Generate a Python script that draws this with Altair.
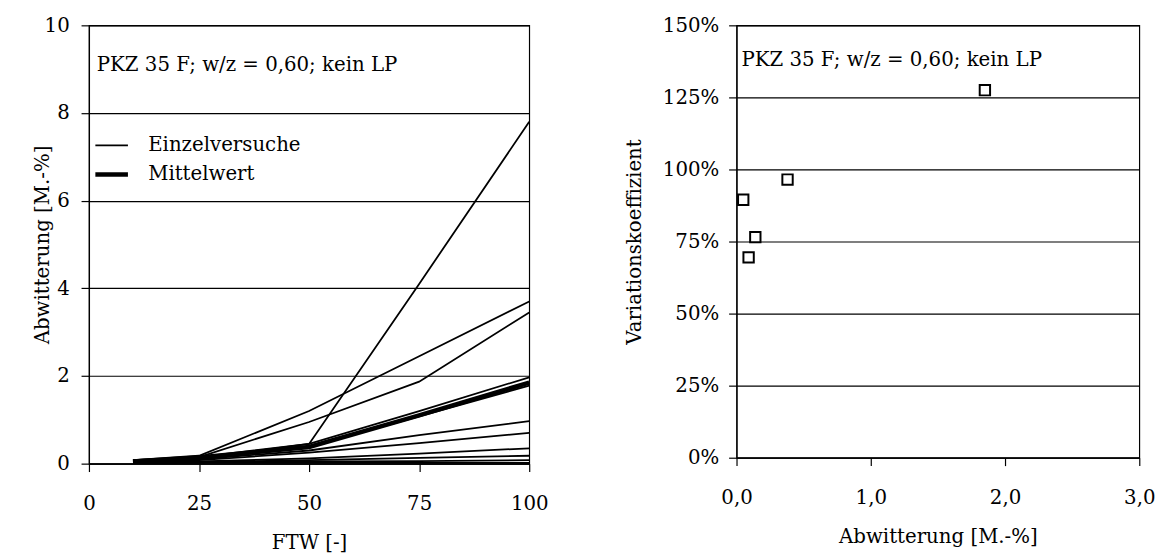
import altair as alt
import pandas as pd

FONT = "DejaVu Serif"
FS = 20

# ---- left panel data: Abwitterung over FTW ----
ftw = [10, 25, 50, 75, 100]
v01 = [0.08, 0.15, 0.45, 4.10, 7.80]
v02 = [0.08, 0.18, 1.20, 2.45, 3.70]
v03 = [0.07, 0.15, 0.95, 1.87, 3.45]
v04 = [0.06, 0.12, 0.45, 1.20, 1.97]
v05 = [0.05, 0.12, 0.38, 1.08, 1.78]
v06 = [0.05, 0.10, 0.30, 0.65, 0.97]
v07 = [0.04, 0.08, 0.25, 0.47, 0.70]
v08 = [0.03, 0.05, 0.12, 0.23, 0.35]
v09 = [0.02, 0.04, 0.08, 0.13, 0.18]
v10 = [0.01, 0.03, 0.05, 0.06, 0.08]
v11 = [0.01, 0.02, 0.02, 0.02, 0.02]
mittel = [0.05, 0.14, 0.38, 1.10, 1.85]

# ---- right panel data: Variationskoeffizient over mean ----
mw = [0.05, 0.09, 0.14, 0.38, 1.85]
cv = [0.895, 0.695, 0.765, 0.965, 1.275]

info_text = "PKZ 35 F; w/z = 0,60; kein LP"
typ_einzel = "Einzelversuche"
typ_mittel = "Mittelwert"

rows = []
einzel = [v01, v02, v03, v04, v05, v06, v07, v08, v09, v10, v11]
for i, s in enumerate(einzel):
    for f, v in zip(ftw, s):
        rows.append({"FTW": f, "Abw": v, "Serie": f"V{i+1}", "Typ": typ_einzel})
for f, v in zip(ftw, mittel):
    rows.append({"FTW": f, "Abw": v, "Serie": "MW", "Typ": typ_mittel})
df_left = pd.DataFrame(rows)
df_right = pd.DataFrame({"MW": mw, "CV": cv})
df_text = pd.DataFrame({"t": [info_text]})

W1, H1 = 446, 444
W2, H2 = 408, 438

lines = alt.Chart(df_left).mark_line(color="black").encode(
    x=alt.X("FTW:Q", scale=alt.Scale(domain=[0, 100]),
            axis=alt.Axis(values=[0, 25, 50, 75, 100], title="FTW [-]", grid=False,
                          labelFlush=False, labelPadding=22, titlePadding=20)),
    y=alt.Y("Abw:Q", scale=alt.Scale(domain=[0, 10]),
            axis=alt.Axis(values=[0, 2, 4, 6, 8, 10], title="Abwitterung [M.-%]", grid=True,
                          labelPadding=12, titleX=-47, titleY=H1 / 2, titleBaseline="middle")),
    detail="Serie:N",
    strokeWidth=alt.StrokeWidth(
        "Typ:N",
        scale=alt.Scale(domain=[typ_einzel, typ_mittel], range=[1.8, 4.5]),
        legend=alt.Legend(title=None, orient="none", legendX=4, legendY=104,
                          symbolType="stroke", symbolSize=1089, symbolStrokeColor="black",
                          labelFont=FONT, labelFontSize=FS, labelColor="black", labelLimit=400,
                          labelOffset=18, rowPadding=-7, padding=0)),
)

text_left = alt.Chart(df_text).mark_text(
    align="left", baseline="alphabetic", font=FONT, fontSize=FS, color="black"
).encode(x=alt.value(8), y=alt.value(46), text="t:N")

left = alt.layer(lines, text_left).properties(width=W1, height=H1)

points = alt.Chart(df_right).mark_point(
    shape="square", filled=False, color="black", strokeWidth=2, size=110, opacity=1
).encode(
    x=alt.X("MW:Q", scale=alt.Scale(domain=[0, 3]),
            axis=alt.Axis(values=[0, 1, 2, 3], title="Abwitterung [M.-%]", grid=False,
                          labelExpr="replace(format(datum.value, '.1f'), '.', ',')",
                          labelFlush=False, labelPadding=22, titlePadding=20)),
    y=alt.Y("CV:Q", scale=alt.Scale(domain=[0, 1.5]),
            axis=alt.Axis(values=[0, 0.25, 0.5, 0.75, 1.0, 1.25, 1.5], format=".0%",
                          title="Variationskoeffizient", grid=True, labelPadding=10,
                          titleX=-103, titleY=H2 / 2, titleBaseline="middle")),
)

text_right = alt.Chart(df_text).mark_text(
    align="left", baseline="alphabetic", font=FONT, fontSize=FS, color="black"
).encode(x=alt.value(5), y=alt.value(41), text="t:N")

right = alt.layer(points, text_right).properties(width=W2, height=H2)

chart = alt.hconcat(left, right, spacing=76).properties(
    padding={"left": 24, "top": 3, "right": 5, "bottom": 0}
).configure_view(
    stroke="black", strokeWidth=1.2
).configure_axis(
    labelFont=FONT, labelFontSize=FS, labelColor="black",
    titleFont=FONT, titleFontSize=FS, titleFontWeight="normal", titleColor="black",
    domainColor="black", domainWidth=1.2, tickColor="black", tickWidth=1.2, tickSize=8,
    gridColor="black", gridOpacity=1, gridWidth=1.2,
)

chart.save("out.html", embed_options={"renderer": "svg", "actions": False})
